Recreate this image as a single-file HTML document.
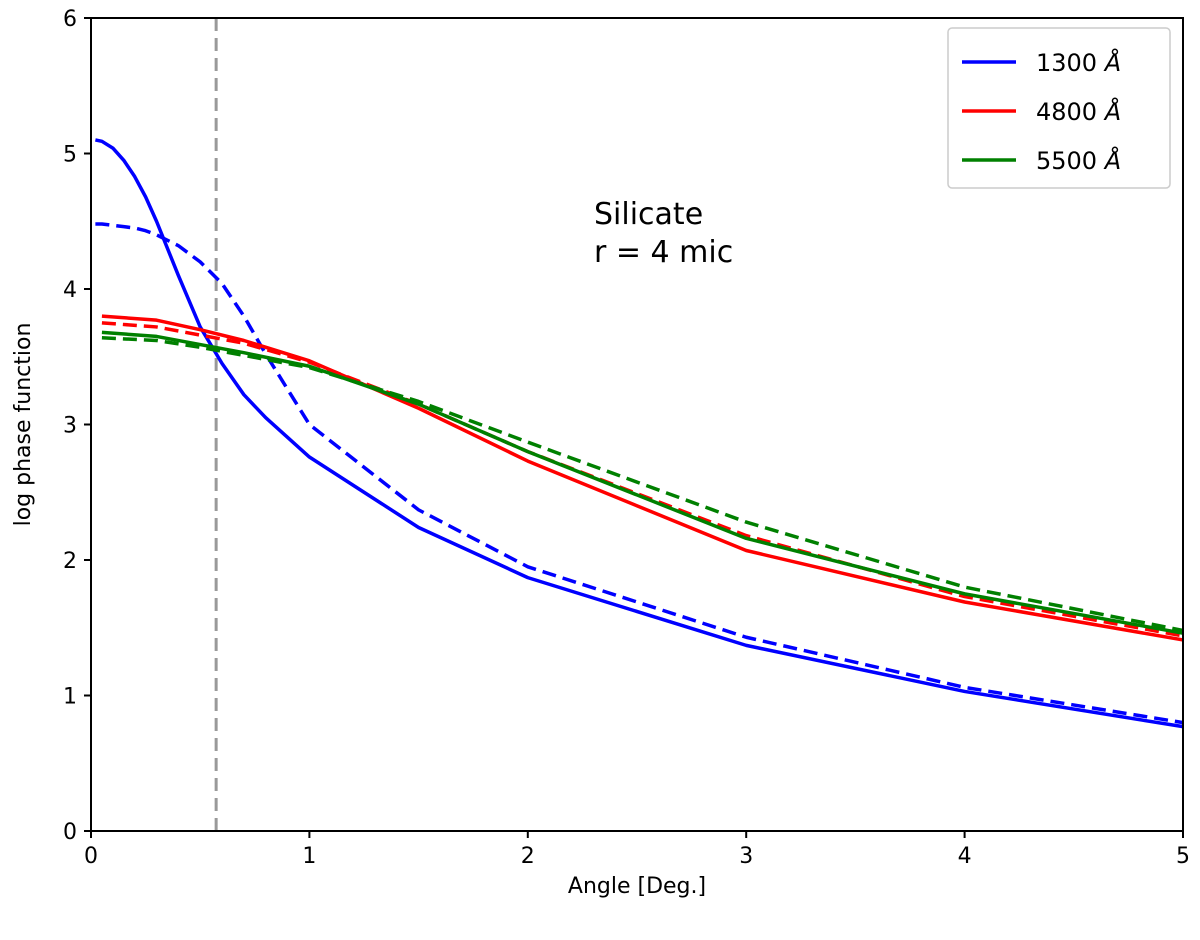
<!DOCTYPE html>
<html><head><meta charset="utf-8"><style>
body{margin:0;background:#fff}
svg text{font-family:"DejaVu Sans","Liberation Sans",sans-serif;fill:#000}
</style></head><body>
<svg width="1200" height="935" viewBox="0 0 1200 935">
<g id="plot"></g>
</svg>
<script>
const xs=[0.02,0.05,0.1,0.15,0.2,0.25,0.3,0.4,0.5,0.6,0.7,0.8,1,1.5,2,3,4,5];
const blueSolid=[5.1,5.09,5.04,4.95,4.83,4.68,4.5,4.1,3.72,3.45,3.22,3.05,2.76,2.24,1.87,1.37,1.03,0.77];
const blueDashed=[4.48,4.48,4.47,4.46,4.45,4.43,4.4,4.32,4.2,4.04,3.8,3.52,3.0,2.37,1.95,1.43,1.06,0.8];
const xs2=[0.05,0.3,0.5,0.7,1,1.5,2,3,4,5];
const redSolid=[3.8,3.77,3.7,3.62,3.47,3.12,2.73,2.07,1.69,1.41];
const redDashed=[3.75,3.72,3.66,3.6,3.46,3.15,2.8,2.18,1.73,1.44];
const greenSolid=[3.68,3.65,3.59,3.53,3.43,3.15,2.8,2.16,1.75,1.46];
const greenDashed=[3.64,3.62,3.57,3.51,3.42,3.17,2.87,2.28,1.8,1.48];
const xTicks=[0,1,2,3,4,5];
const yTicks=[0,1,2,3,4,5,6];
const vLine=0.573;
const L=91,R=1183,T=18,B=831;
const X=v=>L+(v/5)*(R-L), Y=v=>B-(v/6)*(B-T);
const g=document.getElementById('plot');
const NS='http://www.w3.org/2000/svg';
function mk(t,a){const e=document.createElementNS(NS,t);for(const k in a)e.setAttribute(k,a[k]);g.appendChild(e);return e;}
function line(xv,yv,color,dash,name){
 const e=mk('polyline',{points:xv.map((x,i)=>X(x)+','+Y(yv[i])).join(' '),fill:'none',stroke:color,'stroke-width':3.5,'stroke-dasharray':dash?'14,7':'none','stroke-linejoin':'round'});
 
 
}
const vl=mk('line',{x1:X(vLine),x2:X(vLine),y1:T,y2:B,stroke:'#999','stroke-width':3,'stroke-dasharray':'13,7'});


line(xs,blueSolid,'#0000ff',false,'line-1300-solid');
line(xs,blueDashed,'#0000ff',true,'line-1300-dashed');
line(xs2,redSolid,'#ff0000',false,'line-4800-solid');
line(xs2,redDashed,'#ff0000',true,'line-4800-dashed');
line(xs2,greenSolid,'#008000',false,'line-5500-solid');
line(xs2,greenDashed,'#008000',true,'line-5500-dashed');
const fr=mk('rect',{x:L,y:T,width:R-L,height:B-T,fill:'none',stroke:'#000','stroke-width':2});


xTicks.forEach(v=>{mk('line',{x1:X(v),x2:X(v),y1:B,y2:B+7,stroke:'#000','stroke-width':2});
 const t=mk('text',{x:X(v),y:B+32,'text-anchor':'middle','font-size':22});t.textContent=v;
 
 });
yTicks.forEach(v=>{mk('line',{x1:L-7,x2:L,y1:Y(v),y2:Y(v),stroke:'#000','stroke-width':2});
 const t=mk('text',{x:L-14,y:Y(v)+8,'text-anchor':'end','font-size':22});t.textContent=v;
 
 });
let t=mk('text',{x:(L+R)/2,y:893,'text-anchor':'middle','font-size':22});t.textContent='Angle [Deg.]';


t=mk('text',{x:30,y:(T+B)/2,'text-anchor':'middle','font-size':22,transform:'rotate(-90 30 '+((T+B)/2)+')'});t.textContent='log phase function';


t=mk('text',{x:594,y:224,'font-size':30});t.textContent='Silicate';


t=mk('text',{x:594,y:262,'font-size':30});t.textContent='r = 4 mic';


const lb=mk('rect',{x:948,y:28,width:222,height:160,rx:4,fill:'#fff',stroke:'#ccc','stroke-width':1.5});


[['1300','#0000ff'],['4800','#ff0000'],['5500','#008000']].forEach((d,i)=>{
 const y=62+i*49;
 mk('line',{x1:962,x2:1016,y1:y,y2:y,stroke:d[1],'stroke-width':3.5});
 const tx=mk('text',{x:1036,y:y+9,'font-size':24});tx.innerHTML=d[0]+' <tspan font-style="italic">Å</tspan>';
 
 
});
</script>
</body></html>
